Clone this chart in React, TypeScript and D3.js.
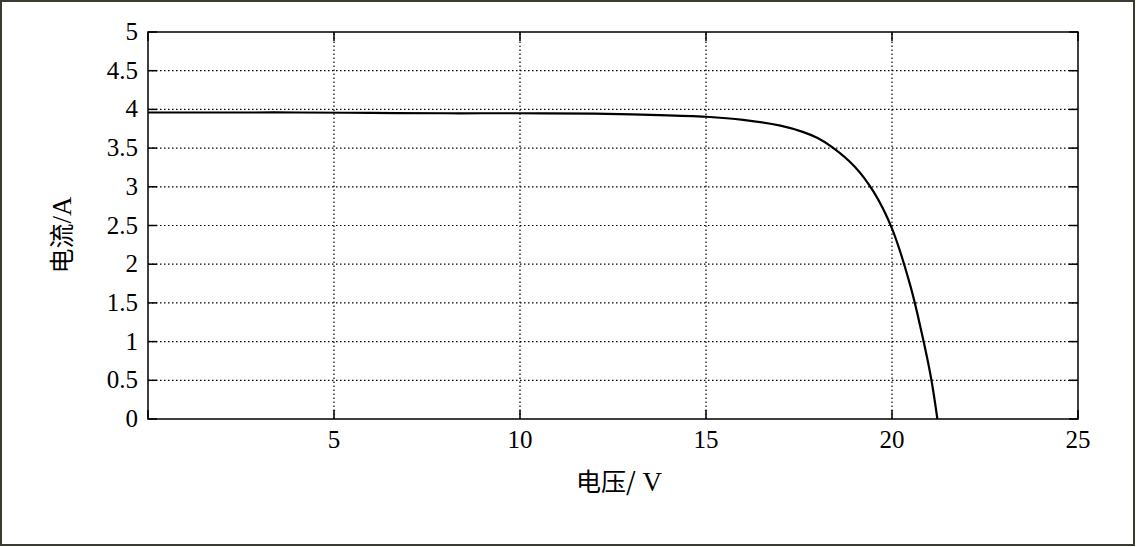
import React from "react";
import * as d3 from "d3";

const voltage = [0, 2, 4, 6, 8, 10, 12, 13.5, 15, 16, 17, 17.6, 18, 18.4, 19, 19.5, 20, 20.5, 20.8, 21.05, 21.22];
const current = [3.96, 3.96, 3.96, 3.955, 3.95, 3.95, 3.945, 3.93, 3.905, 3.865, 3.79, 3.71, 3.63, 3.51, 3.26, 2.94, 2.46, 1.71, 1.11, 0.53, 0];
const xTicks = [0, 5, 10, 15, 20, 25];
const yTicks = [0, 0.5, 1, 1.5, 2, 2.5, 3, 3.5, 4, 4.5, 5];

const W = 1136, H = 547;
const L = 148, R = 1078, T = 32, B = 419;
const font = "'Times New Roman', 'Liberation Serif', 'DejaVu Serif', serif";
const cjk = "'Noto Sans CJK SC', 'Liberation Serif', serif";

export default function App() {
  const x = d3.scaleLinear().domain([0, 25]).range([L, R]);
  const y = d3.scaleLinear().domain([0, 5]).range([B, T]);
  const pts = voltage.map((v, i) => [v, current[i]] as [number, number]);
  const line = d3.line<[number, number]>().x(d => x(d[0])).y(d => y(d[1])).curve(d3.curveCatmullRom.alpha(0.5));
  const tl = 9;
  return (
    <svg width={W} height={H} style={{ position: "absolute", left: 0, top: 0, background: "#fff" }}>
      <rect x={1} y={1} width={W - 3} height={H - 3} fill="#fff" stroke="#3a3a30" strokeWidth={2} />
      {xTicks.filter(t => t > 0 && t < 25).map(t => (
        <line key={"gx" + t} x1={x(t)} x2={x(t)} y1={B} y2={T} stroke="#000" strokeWidth={1.2} strokeDasharray="1.5,2.5" />
      ))}
      {yTicks.filter(t => t > 0 && t < 5).map(t => (
        <line key={"gy" + t} x1={L} x2={R} y1={y(t)} y2={y(t)} stroke="#000" strokeWidth={1.2} strokeDasharray="1.5,2.5" />
      ))}
      {xTicks.map(t => (
        <g key={"tx" + t}>
          <line x1={x(t)} x2={x(t)} y1={B} y2={B - tl} stroke="#000" strokeWidth={1.5} />
          <line x1={x(t)} x2={x(t)} y1={T} y2={T + tl} stroke="#000" strokeWidth={1.5} />
        </g>
      ))}
      {yTicks.map(t => (
        <g key={"ty" + t}>
          <line x1={L} x2={L + tl} y1={y(t)} y2={y(t)} stroke="#000" strokeWidth={1.5} />
          <line x1={R} x2={R - tl} y1={y(t)} y2={y(t)} stroke="#000" strokeWidth={1.5} />
        </g>
      ))}
      <rect x={L} y={T} width={R - L} height={B - T} fill="none" stroke="#000" strokeWidth={1.5} />
      <path d={line(pts) || ""} fill="none" stroke="#000" strokeWidth={2.2} />
      {xTicks.filter(t => t > 0).map(t => (
        <text key={"lx" + t} x={x(t)} y={448} textAnchor="middle" fontFamily={font} fontSize={25} fill="#000">{t}</text>
      ))}
      {yTicks.map(t => (
        <text key={"ly" + t} x={138} y={y(t) + 8} textAnchor="end" fontFamily={font} fontSize={25} fill="#000">{t}</text>
      ))}
      <text x={619} y={491} textAnchor="middle" fontFamily={cjk} fontSize={25} fill="#000">{"电压/"}<tspan fontFamily={font} fontSize={27}>{" V"}</tspan></text>
      <text transform={`translate(71,235) rotate(-90)`} textAnchor="middle" fontFamily={cjk} fontSize={25} fill="#000">{"电流"}<tspan fontFamily={font} fontSize={27}>{"/A"}</tspan></text>
    </svg>
  );
}
